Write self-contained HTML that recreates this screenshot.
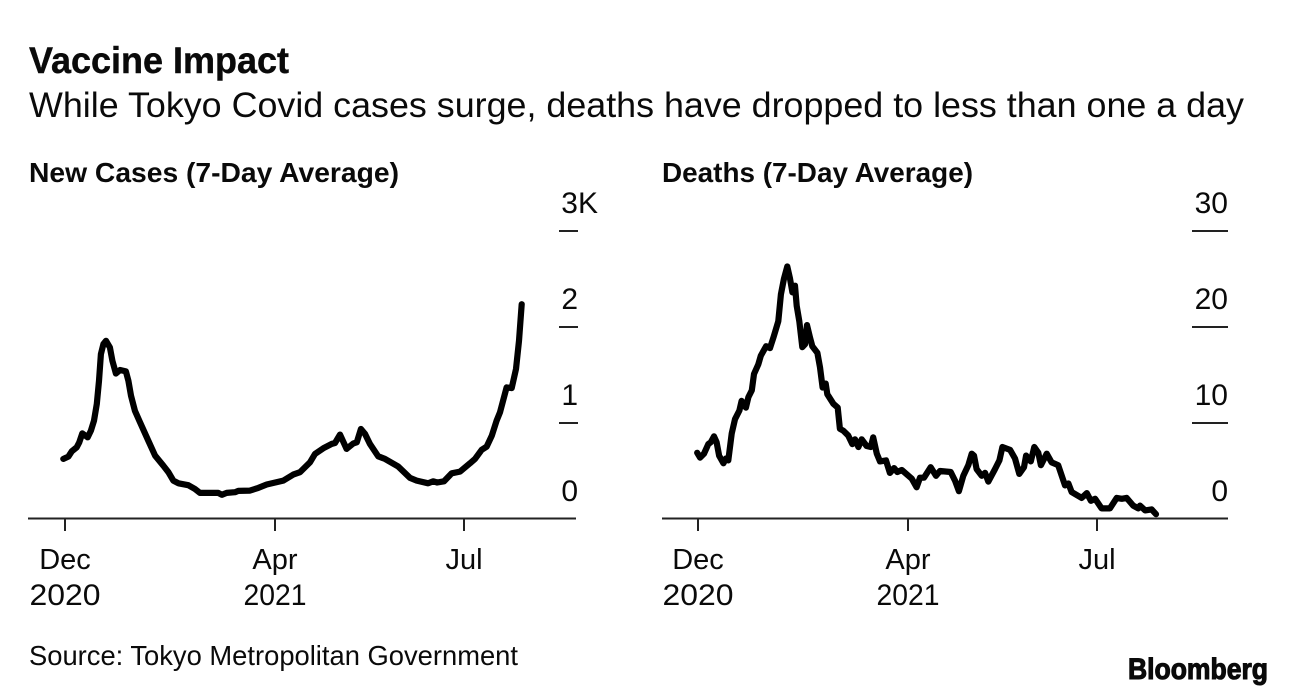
<!DOCTYPE html>
<html lang="en">
<head>
<meta charset="utf-8">
<title>Vaccine Impact</title>
<style>
html,body{margin:0;padding:0;background:#fff;width:1296px;height:696px;overflow:hidden}
svg{display:block}
text{font-family:"Liberation Sans",sans-serif;fill:#0a0a0a}
.b{font-weight:700}
</style>
</head>
<body>
<svg id="chart" width="1296" height="696" viewBox="0 0 1296 696" xmlns="http://www.w3.org/2000/svg">
<rect width="1296" height="696" fill="#fff"/>
<text class="b" x="29" y="73" font-size="37" stroke="#0a0a0a" stroke-width="0.4" textLength="260" lengthAdjust="spacingAndGlyphs">Vaccine Impact</text>
<text x="29" y="117" font-size="35" textLength="1215" lengthAdjust="spacingAndGlyphs">While Tokyo Covid cases surge, deaths have dropped to less than one a day</text>
<text class="b" x="29" y="182" font-size="27.5" textLength="370" lengthAdjust="spacingAndGlyphs">New Cases (7-Day Average)</text>
<text class="b" x="662" y="182" font-size="27.5" textLength="311" lengthAdjust="spacingAndGlyphs">Deaths (7-Day Average)</text>
<g id="cases-panel"></g>
<g id="deaths-panel"></g>
<text x="29" y="665" font-size="27.5" textLength="489" lengthAdjust="spacingAndGlyphs">Source: Tokyo Metropolitan Government</text>
<text class="b" x="1128" y="679" font-size="30" stroke="#0a0a0a" stroke-width="1.1" textLength="140" lengthAdjust="spacingAndGlyphs">Bloomberg</text>
</svg>
<script>
const caseDays = [-0.9,1.8,3.6,6.2,7.6,9.2,12.1,13.8,15.4,16.9,18.1,19.1,20.4,21.8,23.9,25.2,27.1,29.3,32.4,33.7,35.1,37.2,39.9,44.3,47.9,52.3,55,57.6,60.3,65.6,69.1,71.8,81.5,83.4,86,90.4,92.2,98.4,102.8,107.3,116.1,121.4,125,130.3,133,137.4,141.9,143.6,146.3,149.8,153.4,155.2,157.4,159.6,162.2,166.6,170.2,177.3,183.5,187.1,193.2,195.9,198,201.6,205.7,210.1,215.4,218.1,221.6,224.3,227,229.6,231.4,234.9,237.6,239.9,241.5,242.9];
const caseValues = [626,650,705,747,799,892,851,920,1024,1198,1440,1718,1822,1856,1787,1648,1516,1552,1537,1440,1284,1128,1007,816,660,556,487,400,372,352,314,272,272,252,272,279,293,296,324,359,400,463,487,591,678,736,782,792,879,730,788,799,938,886,782,653,626,546,428,400,372,393,380,393,476,494,580,626,720,754,868,1024,1111,1371,1364,1562,1856,2238];
const deathDays = [-0.4,1.1,3.2,5.5,6.8,8.5,9.9,11.2,13.5,14.9,16.1,17.9,19.7,22,23.2,25.5,26.8,28.6,29.8,32.1,33.4,36.2,38.3,40.1,42.7,44.1,45.7,47.5,48.9,50.2,51.6,52.5,53.9,55.5,56.9,58,59.6,60.8,63.5,64.9,66.3,67.9,68.8,72,74.3,75.5,77.3,79.9,82.1,83.5,85.3,87.1,89.7,91.9,93.2,95.1,96.8,100,102.1,104.3,106,108.4,113.7,116.3,118.1,120.2,123.8,126.6,128.7,134.4,136.7,138.8,141.1,143.8,145.6,146.8,148.2,150.9,152.7,154.4,158,160.3,161.9,166,168.6,170.9,173.4,174.5,177,178.9,181,182.4,185.5,188.1,191.6,195.2,197,198.8,204.1,206.8,209,211.2,214.7,219.1,222.7,225.4,228,231.5,234.2,235.1,237.8,241.3,243.6];
const deathValues = [6.9,6.4,6.8,7.8,8,8.6,8,6.6,5.8,6.3,6.1,8.9,10.4,11.3,12.3,11.6,12.7,13.4,15.1,16.1,17,18,17.8,18.9,20.6,23.4,25,26.3,25.1,23.6,24.3,22.2,20.6,17.9,18.2,20.2,18.9,18,17.3,15.8,13.7,14.1,13,12,11.6,9.4,9.2,8.7,7.8,8.3,7.5,8.3,7.6,7.5,8.5,6.8,6,6.1,4.8,5.3,4.9,5.1,4.2,3.3,4.3,4.3,5.4,4.5,5,4.9,4,2.9,4.5,5.6,6.8,6.6,5.2,4.5,4.8,3.9,5.2,6.1,7.5,7.2,6.3,4.7,5.4,6.6,6,7.5,6.9,5.6,6.8,5.9,5.6,3.5,3.7,2.8,2.2,2.7,1.9,2.1,1.1,1.1,2.2,2.1,2.2,1.4,1.1,1.4,0.9,1,0.5];
const monthTickDays = [0,111.5,212];
const monthTickLabels = ["Dec","Apr","Jul"];
const yearTickLabels = ["2020","2021",""];
const caseTickValues = [0,1000,2000,3000];
const caseTickLabels = ["0","1","2","3K"];
const deathTickValues = [0,10,20,30];
const deathTickLabels = ["0","10","20","30"];

const NS = "http://www.w3.org/2000/svg";
function make(tag, attrs, parent, txt){
  const el = document.createElementNS(NS, tag);
  for (const k in attrs) el.setAttribute(k, attrs[k]);
  if (txt !== undefined) el.textContent = txt;
  parent.appendChild(el);
  return el;
}
function drawPanel(cfg){
  const g = document.getElementById(cfg.id);
  const xScale = d => cfg.x0 + d * 1.88;
  const yScale = v => 519 - v / cfg.yMax * 288;

  const axis = make("line",{x1:cfg.axisL,x2:cfg.axisR,y1:518.5,y2:518.5,stroke:"#222","stroke-width":2},g);
  
  

  monthTickDays.forEach((d,i)=>{
    const x = Math.round(xScale(d));
    const t = make("line",{x1:x,x2:x,y1:519,y2:531,stroke:"#222","stroke-width":2},g);
    
    
    const m = make("text",{x:x,y:569,"font-size":29,"text-anchor":"middle"},g,monthTickLabels[i]);
    
    
    if (yearTickLabels[i]) {
      const yr = make("text",{x:x,y:605,"font-size":30,"text-anchor":"middle",textLength:i === 0 ? 71 : 63,lengthAdjust:"spacingAndGlyphs"},g,yearTickLabels[i]);
      
      
    }
  });

  cfg.tickValues.forEach((v,i)=>{
    const y = yScale(v);
    const isTop = i === cfg.tickValues.length - 1;
    if (v !== 0) {
      const t = make("line",{x1:cfg.tickL,x2:cfg.labelR,y1:y,y2:y,stroke:"#222","stroke-width":2},g);
      
      
    }
    const labelX = cfg.id === "cases-panel" && isTop ? cfg.labelR + 20 : cfg.labelR;
    const lab = make("text",{x:labelX,y:v === 0 ? 501 : y - 18,"font-size":30,"text-anchor":"end"},g,cfg.tickLabels[i]);
    
    
  });

  const d = cfg.days.map((day,i)=>(i ? "L" : "M") + xScale(day).toFixed(1) + " " + yScale(cfg.values[i]).toFixed(1)).join(" ");
  const line = make("path",{d:d,fill:"none",stroke:"#000","stroke-width":6.2,"stroke-linejoin":"round","stroke-linecap":"round"},g);
  
  
}
drawPanel({id:"cases-panel",prefix:"cases",x0:65,axisL:28,axisR:576,tickL:559,labelR:578,yMax:3000,days:caseDays,values:caseValues,tickValues:caseTickValues,tickLabels:caseTickLabels});
drawPanel({id:"deaths-panel",prefix:"deaths",x0:698,axisL:662,axisR:1228,tickL:1192,labelR:1228,yMax:30,days:deathDays,values:deathValues,tickValues:deathTickValues,tickLabels:deathTickLabels});
</script>
</body>
</html>
